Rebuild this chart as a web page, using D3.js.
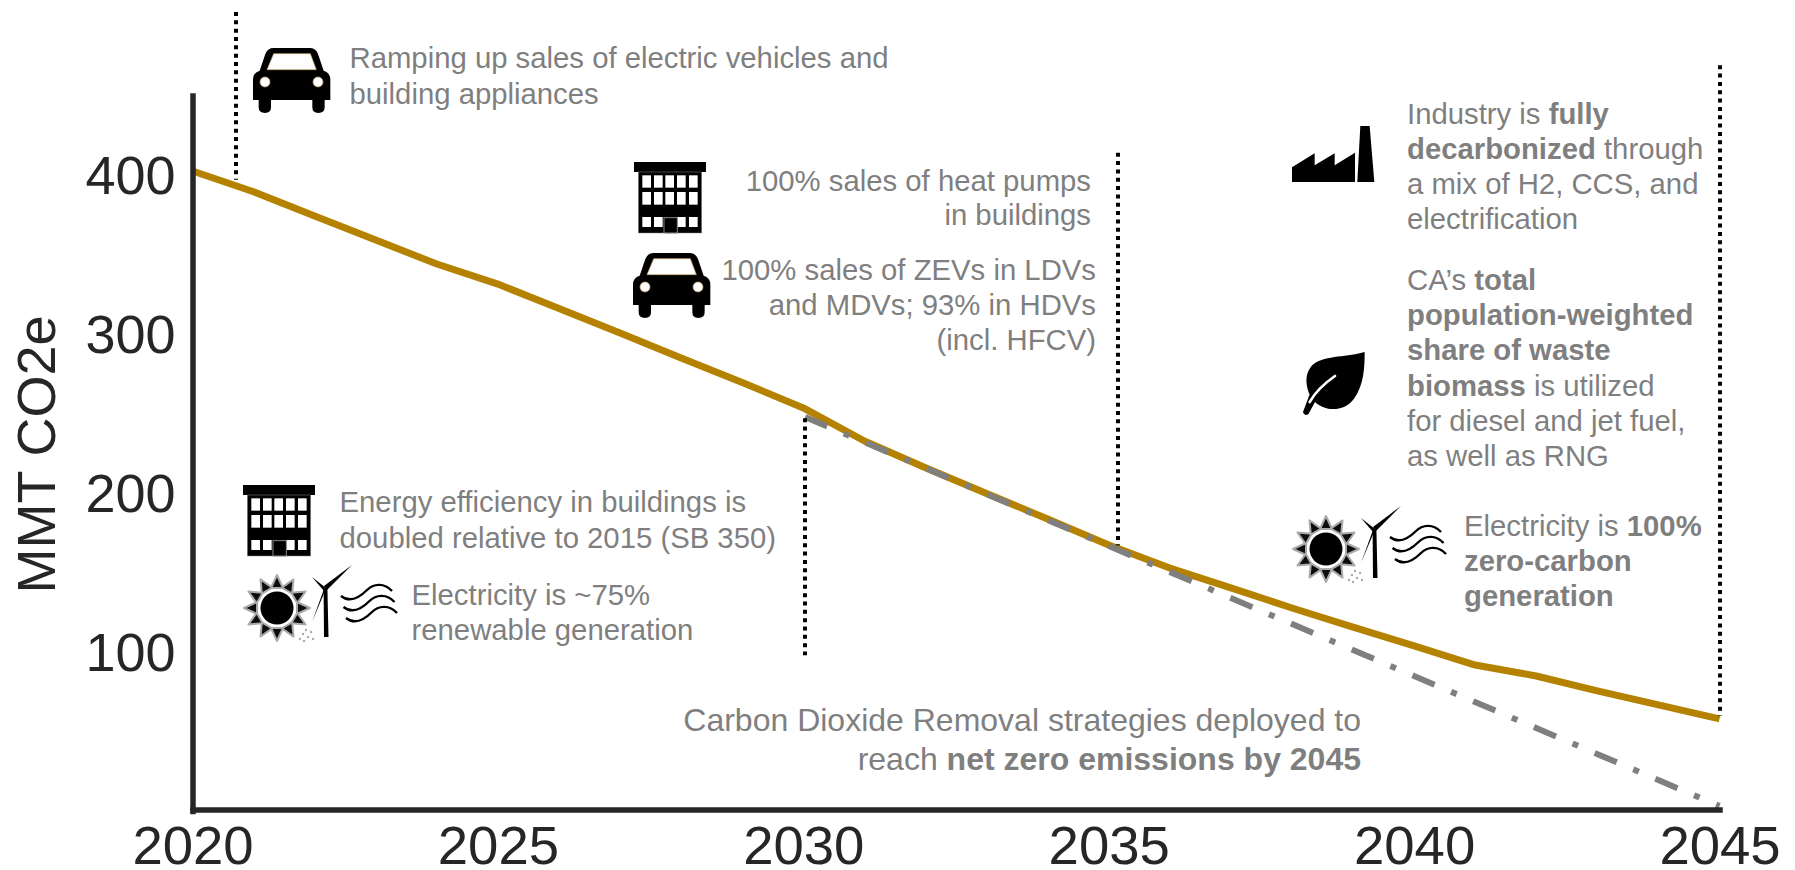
<!DOCTYPE html>
<html>
<head>
<meta charset="utf-8">
<script src="https://cdn.jsdelivr.net/npm/d3@7"></script>
<style>
html,body{margin:0;padding:0;background:#fff;}
svg{display:block;font-family:"Liberation Sans",Arial,sans-serif;}
</style>
</head>
<body>
<svg id="chart" width="1795" height="870"></svg>
<script>
// ---- data ----
const years = [2020,2021,2022,2023,2024,2025,2026,2027,2028,2029,2030,2031,2032,2033,2034,2035,2036,2037,2038,2039,2040,2041,2042,2043,2044,2045];
const emissions = [402.5,389.5,374.2,359.1,344,331.4,316,300.6,284.9,269.5,253.5,232.7,215.9,199.7,183.6,167.3,152.8,140.3,127.7,115.7,103.8,91.8,84.9,75.5,66.7,57.9];
const pathwayYears = [2030.03,2035,2040,2045];
const pathwayValues = [247.8,166.7,84.9,3.1];
const xTicks = [2020,2025,2030,2035,2040,2045];
const yTicks = [100,200,300,400];
const yLabel = "MMT CO2e";
// milestone markers: year, upper value, lower value
const markerYears = [2020.71,2030.03,2035.16,2045];
const markerTop = [502.5,247,414,469];
const markerBottom = [397,98,167,60];

const noteRamping = [[["Ramping up sales of electric vehicles and",0]],[["building appliances",0]]];
const noteHeat = [[["100% sales of heat pumps",0]],[["in buildings",0]]];
const noteZev = [[["100% sales of ZEVs in LDVs",0]],[["and MDVs; 93% in HDVs",0]],[["(incl. HFCV)",0]]];
const noteEfficiency = [[["Energy efficiency in buildings is",0]],[["doubled relative to 2015 (SB 350)",0]]];
const noteElec75 = [[["Electricity is ~75%",0]],[["renewable generation",0]]];
const noteIndustry = [[["Industry is ",0],["fully",1]],[["decarbonized",1],[" through",0]],[["a mix of H2, CCS, and",0]],[["electrification",0]]];
const noteBiomass = [[["CA\u2019s ",0],["total",1]],[["population-weighted",1]],[["share of waste",1]],[["biomass",1],[" is utilized",0]],[["for diesel and jet fuel,",0]],[["as well as RNG",0]]];
const noteElec100 = [[["Electricity is ",0],["100%",1]],[["zero-carbon",1]],[["generation",1]]];
const noteCdr = [[["Carbon Dioxide Removal strategies deployed to",0]],[["reach ",0],["net zero emissions by 2045",1]]];

// ---- scales ----
const svg = d3.select("#chart");
const x = d3.scaleLinear().domain([2020,2045]).range([192.5,1719.5]);
const y = d3.scaleLinear().domain([0,450]).range([811,95.5]);
const INK = "#262626", GREY = "#7f7f7f", GOLD = "#b58200";

const defs = svg.append("defs");
defs.append("filter").attr("id","fuzz").attr("x","-30%").attr("y","-30%").attr("width","160%").attr("height","160%")
  .append("feGaussianBlur").attr("stdDeviation",0.7);

// ---- lines ----
const line = d3.line().x(d=>x(d[0])).y(d=>y(d[1]));
svg.append("path").datum(d3.zip(years,emissions)).attr("d",line)
  .attr("fill","none").attr("stroke",GOLD).attr("stroke-width",7).attr("stroke-linejoin","round");
svg.append("path").datum(d3.zip(pathwayYears,pathwayValues)).attr("d",line)
  .attr("fill","none").attr("stroke",GREY).attr("stroke-width",6).attr("stroke-dasharray","24 18 6 18");

// ---- dotted milestone markers ----
svg.append("g").selectAll("line").data(markerYears).join("line")
  .attr("x1",d=>Math.round(x(d))).attr("x2",d=>Math.round(x(d)))
  .attr("y1",(d,i)=>y(markerTop[i])).attr("y2",(d,i)=>y(markerBottom[i]))
  .attr("stroke","#000").attr("stroke-width",4).attr("stroke-dasharray","4 4.33");

// ---- axes ----
const gx = svg.append("g").attr("transform","translate(0,809.5)")
  .call(d3.axisBottom(x).tickValues(xTicks).tickFormat(d3.format("d")).tickSize(0).tickPadding(16));
const gy = svg.append("g").attr("transform","translate(192.5,0)")
  .call(d3.axisLeft(y).tickValues(yTicks).tickSize(0).tickPadding(17));
[gx,gy].forEach(g=>{
  g.select(".domain").attr("stroke",INK).attr("stroke-width",5.5).attr("stroke-linecap","square");
  g.selectAll("text").attr("fill",INK).attr("font-size",54.5).attr("font-family","'Liberation Sans',Arial,sans-serif");
});
gy.selectAll("text").attr("font-size",54).attr("y",1.5);
svg.append("text").text(yLabel).attr("transform","translate(55,454.5) rotate(-90)")
  .attr("text-anchor","middle").attr("font-size",54).attr("fill",INK);

// ---- annotation text ----
function note(lines,px,py,step,anchor,size){
  const t = svg.append("g").attr("font-size",size).attr("fill",GREY).attr("text-anchor",anchor);
  lines.forEach((segs,i)=>{
    const row = t.append("text").attr("x",px).attr("y",py+i*step).attr("xml:space","preserve");
    segs.forEach(s=>row.append("tspan").text(s[0]).attr("font-weight",s[1]?"bold":"normal"));
  });
}
note(noteRamping,349.5,68,35.6,"start",29.3);
note(noteHeat,1091,190.5,34.5,"end",29.3);
note(noteZev,1096,280,34.9,"end",29.3);
note(noteEfficiency,339.5,512,35.6,"start",29.3);
note(noteElec75,411.5,605,35.4,"start",29.3);
note(noteIndustry,1407,124,35,"start",29.3);
note(noteBiomass,1407,290,35.2,"start",29.3);
note(noteElec100,1464,535.5,35.2,"start",29.3);
note(noteCdr,1361,731,39,"end",32);

// ---- icons ----
function car(px,py){
  const g = svg.append("g").attr("transform",`translate(${px},${py}) scale(0.3333)`);
  g.append("path").attr("fill","#000").attr("d","M62,0H170Q188,0 195,18L212,68Q232,74 232,95V156H215V178Q215,195 196,195Q178,195 178,178V156H54V178Q54,195 36,195Q17,195 17,178V156H0V95Q0,74 20,68L37,18Q44,0 62,0Z");
  g.append("path").attr("fill","#fff").attr("stroke","#c9a36b").attr("stroke-width",2).attr("d","M62,17H172L190,65H42Z");
  [36,195].forEach(c=>g.append("circle").attr("cx",c).attr("cy",102).attr("r",15).attr("fill","#fff").attr("stroke","#c9a36b").attr("stroke-width",2));
}
function building(px,py,k){
  const g = svg.append("g").attr("transform",`translate(${px},${py}) scale(${k})`);
  g.append("rect").attr("x",0).attr("y",0).attr("width",216).attr("height",30).attr("fill","#000");
  g.append("rect").attr("x",13).attr("y",30).attr("width",190).attr("height",183).attr("fill","#000").attr("stroke","#888").attr("stroke-width",1.5);
  const cols=[25,60,94,129,165], rows=[[40,37],[90,38]];
  rows.forEach(r=>cols.forEach(c=>g.append("rect").attr("x",c).attr("y",r[0]).attr("width",26).attr("height",r[1]).attr("fill","#fff")));
  [25,60,129,165].forEach(c=>g.append("rect").attr("x",c).attr("y",165).attr("width",26).attr("height",30).attr("fill","#fff"));
  g.append("rect").attr("x",90).attr("y",167).attr("width",40).attr("height",46).attr("fill","#000").attr("stroke","#888").attr("stroke-width",3);
}
function factory(px,py){
  const g = svg.append("g").attr("transform",`translate(${px},${py}) scale(0.3333)`);
  g.append("path").attr("fill","#000").attr("d","M0,168V124L68,82V118L128,82V118L189,80V168Z");
  g.append("path").attr("fill","#000").attr("d","M205,0H233L247,168H196Z");
}
function leaf(px,py){
  const g = svg.append("g").attr("transform",`translate(${px},${py}) scale(0.3333)`);
  g.append("path").attr("fill","#000").attr("d","M185,0C138,15 68,10 33,35C3,60 8,100 20,127L0,180Q3,193 16,187L36,150C68,180 123,180 153,140C183,100 185,45 185,0Z");
  g.append("path").attr("fill","none").attr("stroke","#fff").attr("stroke-width",8).attr("stroke-linecap","round").attr("d","M96,72C70,90 40,115 20,150");
}
function energy(cx,cy){
  const g = svg.append("g").attr("transform",`translate(${cx},${cy})`);
  const rays = g.append("g").attr("filter","url(#fuzz)");
  d3.range(12).forEach(i=>{
    const ray = rays.append("g").attr("transform",`rotate(${i*30})`);
    ray.append("path").attr("d","M-6,-20L6,-20L0,-33Z").attr("fill","#111").attr("stroke","#aaa").attr("stroke-width",2).attr("stroke-linejoin","round");
  });
  g.append("circle").attr("r",16.5).attr("fill","#000");
  [[26,26],[29,22],[31,29],[23,31],[34,24],[27,33],[36,31]].forEach(p=>g.append("circle").attr("cx",p[0]).attr("cy",p[1]).attr("r",1.2).attr("fill","#aaa"));
  // turbine
  g.append("path").attr("fill","#000").attr("d","M47,29L46.6,-20H50.4L51.5,29Z");
  g.append("path").attr("fill","#000").attr("d","M47,-22L75,-43L50,-18Z");
  g.append("path").attr("fill","#000").attr("d","M49,-20L35,-31L47,-17Z");
  g.append("path").attr("fill","#000").attr("d","M47,-19L35,14L48,-17Z");
  // waves
  [[64,-12],[66.5,-1],[69,10]].forEach(o=>g.append("path")
    .attr("transform",`translate(${o[0]},${o[1]})`).attr("fill","none").attr("stroke","#000").attr("stroke-width",2.4)
    .attr("d","M0,0C10,8 20,0 26,-6C32,-12 43,-14 51,-5"));
}
car(253,48);
car(633,253);
building(634,162,0.3333);
building(243,485,0.3333);
factory(1292,126);
leaf(1303,352);
energy(1326,549);
energy(277,608);
</script>
</body>
</html>
